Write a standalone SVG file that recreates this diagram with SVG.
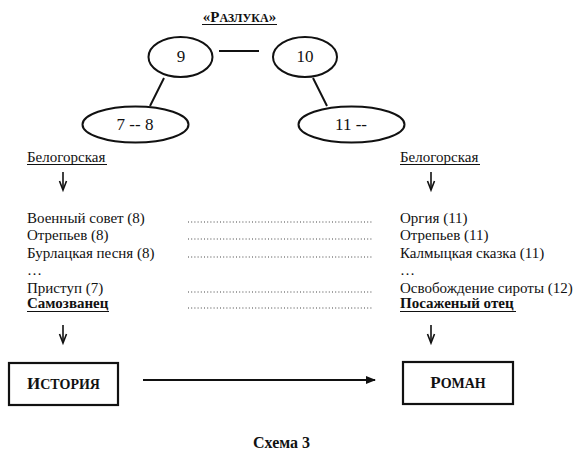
<svg xmlns="http://www.w3.org/2000/svg" width="586" height="461" viewBox="0 0 586 461">
<style>
text{font-family:'Liberation Serif','Times New Roman',serif;fill:#111}
.t{font-size:15px}
.b{font-weight:bold}
.el{fill:none;stroke:#111;stroke-width:2}
.ln{stroke:#111;stroke-width:2;fill:none}
.dot{stroke:#444;stroke-width:1;stroke-dasharray:1 2.2;fill:none}
.ar{stroke:#111;stroke-width:1.6;fill:none}
.bx{fill:#fff;stroke:#111;stroke-width:2.2}
.ul{stroke:#111;stroke-width:1}
</style>
<defs>
<marker id="ah" markerWidth="10" markerHeight="8" refX="9" refY="4" orient="auto" markerUnits="userSpaceOnUse">
<path d="M0,0 L10,4 L0,8 z" fill="#111"/>
</marker>
<g id="varrow">
<line x1="0" y1="0" x2="0" y2="17" class="ar"/>
<polyline points="-3.5,9 0,18 3.5,9" class="ar"/>
</g>
</defs>

<g id="title">
<text x="239.5" y="22" text-anchor="middle" class="b" font-size="15">«Р<tspan font-size="12">АЗЛУКА</tspan>»</text>
<line x1="202" y1="24.5" x2="277" y2="24.5" class="ul"/>
</g>

<g id="connectors">
<line x1="219" y1="51" x2="259" y2="51" class="ln"/>
<line x1="164" y1="78" x2="150" y2="106" class="ln"/>
<line x1="313" y1="78" x2="327" y2="106" class="ln"/>
<use href="#varrow" x="63" y="172"/>
<use href="#varrow" x="431" y="172"/>
<use href="#varrow" x="63" y="325"/>
<use href="#varrow" x="431" y="325"/>
<line x1="143" y1="380" x2="375" y2="380" class="ln" marker-end="url(#ah)"/>
</g>

<g id="n9">
<ellipse cx="180.5" cy="57" rx="32" ry="20" class="el"/>
<text x="181" y="62" text-anchor="middle" font-size="17">9</text>
</g>
<g id="n10">
<ellipse cx="305" cy="57" rx="32" ry="20" class="el"/>
<text x="305" y="62" text-anchor="middle" font-size="17">10</text>
</g>
<g id="n78">
<ellipse cx="135.5" cy="124.5" rx="53" ry="18" class="el"/>
<text x="135" y="130" text-anchor="middle" font-size="17">7 -- 8</text>
</g>
<g id="n11">
<ellipse cx="351.5" cy="124.5" rx="53" ry="18" class="el"/>
<text x="351" y="130" text-anchor="middle" font-size="17">11 --</text>
</g>

<g id="left-column">
<text x="27" y="162" class="t">Белогорская</text>
<line x1="27" y1="164.5" x2="107" y2="164.5" class="ul"/>
<text x="27" y="223" class="t">Военный совет (8)</text>
<text x="27" y="240" class="t">Отрепьев (8)</text>
<text x="27" y="258" class="t">Бурлацкая песня (8)</text>
<text x="27" y="275" class="t">…</text>
<text x="27" y="293" class="t">Приступ (7)</text>
<text x="27" y="308" class="t b">Самозванец</text>
<line x1="27" y1="311.5" x2="109" y2="311.5" class="ul" stroke-width="1.4"/>
</g>

<g id="dots">
<line x1="188" y1="222" x2="372" y2="222" class="dot"/>
<line x1="188" y1="239" x2="372" y2="239" class="dot"/>
<line x1="188" y1="257" x2="372" y2="257" class="dot"/>
<line x1="188" y1="292" x2="372" y2="292" class="dot"/>
<line x1="188" y1="308" x2="372" y2="308" class="dot"/>
</g>

<g id="right-column">
<text x="400" y="162" class="t">Белогорская</text>
<line x1="400" y1="164.5" x2="480" y2="164.5" class="ul"/>
<text x="400" y="223" class="t">Оргия (11)</text>
<text x="400" y="240" class="t">Отрепьев (11)</text>
<text x="400" y="258" class="t">Калмыцкая сказка (11)</text>
<text x="400" y="275" class="t">…</text>
<text x="400" y="293" class="t" font-size="14.5">Освобождение сироты (12)</text>
<text x="400" y="308" class="t b">Посаженый отец</text>
<line x1="400" y1="311.5" x2="516" y2="311.5" class="ul" stroke-width="1.4"/>
</g>

<g id="history">
<rect x="9" y="363" width="109" height="42" class="bx"/>
<text x="63.5" y="389" text-anchor="middle" class="b" font-size="17">И<tspan font-size="14">СТОРИЯ</tspan></text>
</g>
<g id="roman">
<rect x="403" y="362" width="110" height="42" class="bx"/>
<text x="458" y="388" text-anchor="middle" class="b" font-size="17">Р<tspan font-size="14">ОМАН</tspan></text>
</g>

<g id="caption">
<text x="281.5" y="448" text-anchor="middle" class="b" font-size="16">Схема 3</text>
</g>
</svg>
